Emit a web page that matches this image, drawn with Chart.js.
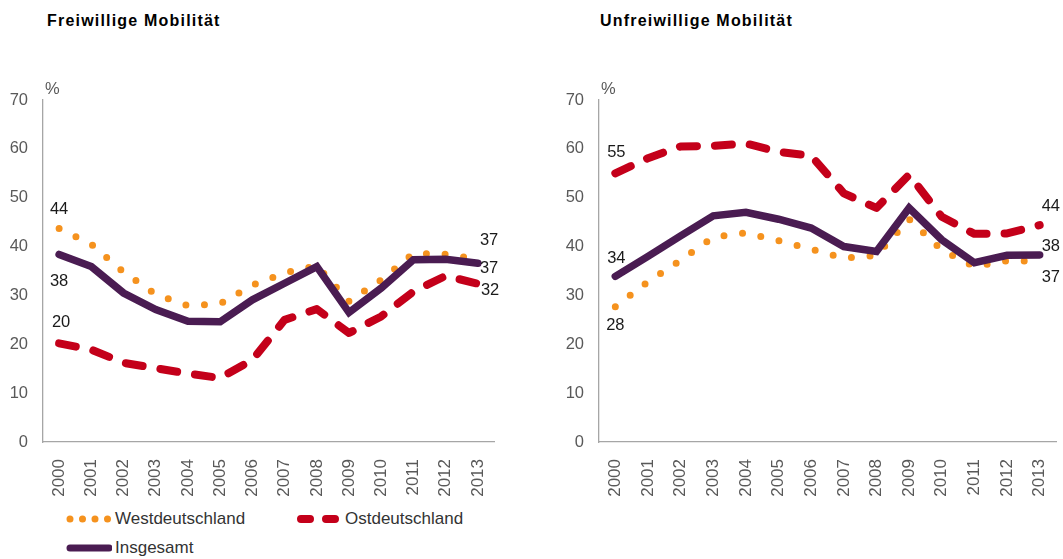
<!DOCTYPE html>
<html>
<head>
<meta charset="utf-8">
<script src="https://cdn.jsdelivr.net/npm/chart.js@4/dist/chart.umd.min.js"></script>
<style>
  body { margin: 0; background: #fff; font-family: "Liberation Sans", Arial, sans-serif; }
  #page { position: relative; width: 1063px; height: 559px; overflow: hidden; }
  .title { position: absolute; top: 12px; font-weight: bold; font-size: 16px; letter-spacing: 1.2px; color: #000; }
  canvas { position: absolute; top: 0; }
  .legend { position: absolute; font-size: 17px; color: #333; display: flex; align-items: center; }
  .legend svg { margin-right: 3px; }
</style>
</head>
<body>
<div id="page">
  <div class="title" style="left:47px">Freiwillige Mobilität</div>
  <div class="title" style="left:600px">Unfreiwillige Mobilität</div>
  <canvas id="chartFrei" width="530" height="500" style="left:0"></canvas>
  <canvas id="chartUnfrei" width="507" height="500" style="left:556px"></canvas>

  <div class="legend" style="left:66px; top:509px">
    <svg width="46" height="12"><line x1="4" y1="6" x2="44" y2="6" stroke="#F5921E" stroke-width="7" stroke-linecap="round" stroke-dasharray="0 12.5"/></svg>Westdeutschland
  </div>
  <div class="legend" style="left:296px; top:509px">
    <svg width="46" height="12"><line x1="5" y1="6" x2="43" y2="6" stroke="#C4001A" stroke-width="8" stroke-linecap="round" stroke-dasharray="9 16"/></svg>Ostdeutschland
  </div>
  <div class="legend" style="left:66px; top:538px">
    <svg width="46" height="12"><line x1="4" y1="6" x2="43" y2="6" stroke="#4A1C52" stroke-width="7" stroke-linecap="round"/></svg>Insgesamt
  </div>
</div>

<script>
const years = ['2000', '2001', '2002', '2003', '2004', '2005', '2006', '2007', '2008', '2009', '2010', '2011', '2012', '2013'];
const yTicks = [0, 10, 20, 30, 40, 50, 60, 70];

// Freiwillige Mobilität
const westFrei = [43.7, 40.5, 34.8, 30.2, 27.9, 28.3, 32.1, 34.6, 36.1, 28.8, 33.2, 38.6, 38.4, 37.4];
const ostFrei = [20.2, 18.9, 16.2, 15.1, 14.0, 13.1, 16.8, 25.0, 27.2, 22.3, 25.7, 30.8, 34.0, 32.4];
const gesFrei = [38.4, 35.9, 30.5, 27.1, 24.7, 24.6, 29.1, 32.5, 35.9, 26.5, 31.5, 37.3, 37.4, 36.6];

// Unfreiwillige Mobilität
const westUnfrei = [27.7, 32.8, 37.2, 41.9, 42.8, 41.2, 39.5, 37.6, 38.2, 45.6, 39.3, 35.9, 37.1, 37.0];
const ostUnfrei = [55.0, 58.1, 60.5, 60.6, 61.1, 59.4, 58.6, 50.9, 47.9, 54.7, 46.1, 42.6, 42.7, 44.4];
const gesUnfrei = [33.9, 38.0, 42.2, 46.3, 47.0, 45.6, 43.8, 40.0, 39.0, 47.9, 41.4, 36.7, 38.2, 38.3];

const ORANGE = '#F5921E';
const RED = '#C4001A';
const PURPLE = '#4A1C52';
const TICK = '#595959';
const AXIS = '#A6A6A6';

// draws the start/end values and the % sign
const valueLabels = {
    id: 'valueLabels',
    afterDatasetsDraw(chart, args, opts) {
        const ctx = chart.ctx;
        ctx.save();
        ctx.font = '16.5px "Liberation Sans", Arial, sans-serif';
        ctx.textBaseline = 'middle';
        ctx.fillStyle = '#1a1a1a';
        opts.items.forEach(it => {
            const pt = chart.getDatasetMeta(it.ds).data[it.idx];
            const v = chart.data.datasets[it.ds].data[it.idx];
            ctx.textAlign = it.align;
            ctx.fillText(String(Math.round(v)), pt.x + it.dx, pt.y + it.dy);
        });
        ctx.fillStyle = TICK;
        ctx.textAlign = 'left';
        ctx.textBaseline = 'alphabetic';
        ctx.fillText('%', chart.chartArea.left + 2, chart.chartArea.top - 6);
        ctx.restore();
    }
};

function makeChart(id, west, ost, ges, rightPad, items) {
    return new Chart(document.getElementById(id).getContext('2d'), {
        type: 'line',
        data: {
            labels: years,
            datasets: [
                {
                    label: 'Westdeutschland',
                    data: west,
                    borderColor: ORANGE,
                    borderWidth: 7,
                    borderDash: [0, 18.7],
                    borderCapStyle: 'round',
                    pointRadius: 0,
                    tension: 0,
                    order: 2
                },
                {
                    label: 'Ostdeutschland',
                    data: ost,
                    borderColor: RED,
                    borderWidth: 8,
                    borderDash: [17, 18],
                    borderCapStyle: 'round',
                    borderJoinStyle: 'round',
                    pointRadius: 0,
                    tension: 0,
                    order: 3
                },
                {
                    label: 'Insgesamt',
                    data: ges,
                    borderColor: PURPLE,
                    borderWidth: 7.5,
                    borderCapStyle: 'round',
                    pointRadius: 0,
                    tension: 0,
                    order: 1
                }
            ]
        },
        options: {
            responsive: false,
            animation: false,
            events: [],
            layout: {
                padding: { top: 100, right: rightPad, left: 0, bottom: 0 }
            },
            plugins: {
                legend: { display: false },
                tooltip: { enabled: false },
                valueLabels: { items: items }
            },
            scales: {
                x: {
                    offset: true,
                    grid: { display: false },
                    border: { display: true, color: AXIS, width: 1.3 },
                    ticks: {
                        color: TICK,
                        font: { size: 17, family: '"Liberation Sans", Arial, sans-serif' },
                        minRotation: 90,
                        maxRotation: 90,
                        padding: 9
                    },
                    afterFit(scale) {
                        scale.height = 58;
                        scale.paddingLeft = 0;
                        scale.paddingRight = 0;
                    }
                },
                y: {
                    min: 0,
                    max: 70,
                    grid: { display: false },
                    border: { display: true, color: AXIS, width: 1.3 },
                    afterBuildTicks(scale) { scale.ticks = yTicks.map(v => ({ value: v })); },
                    ticks: {
                        color: TICK,
                        font: { size: 16.5, family: '"Liberation Sans", Arial, sans-serif' },
                        padding: 7
                    },
                    afterFit(scale) { scale.width = 43; }
                }
            }
        },
        plugins: [valueLabels]
    });
}

makeChart('chartFrei', westFrei, ostFrei, gesFrei, 36, [
    { ds: 0, idx: 0, dx: 0, dy: -19, align: 'center' },
    { ds: 2, idx: 0, dx: 0, dy: 27, align: 'center' },
    { ds: 1, idx: 0, dx: 2, dy: -21, align: 'center' },
    { ds: 0, idx: 13, dx: 2, dy: -19, align: 'left' },
    { ds: 2, idx: 13, dx: 2, dy: 5, align: 'left' },
    { ds: 1, idx: 13, dx: 3, dy: 7, align: 'left' }
]);

makeChart('chartUnfrei', westUnfrei, ostUnfrei, gesUnfrei, 7, [
    { ds: 1, idx: 0, dx: 1, dy: -21, align: 'center' },
    { ds: 2, idx: 0, dx: 1, dy: -18, align: 'center' },
    { ds: 0, idx: 0, dx: 0, dy: 19, align: 'center' },
    { ds: 1, idx: 13, dx: 2, dy: -19, align: 'left' },
    { ds: 2, idx: 13, dx: 2, dy: -8, align: 'left' },
    { ds: 0, idx: 13, dx: 2, dy: 16, align: 'left' }
]);
</script>
</body>
</html>
